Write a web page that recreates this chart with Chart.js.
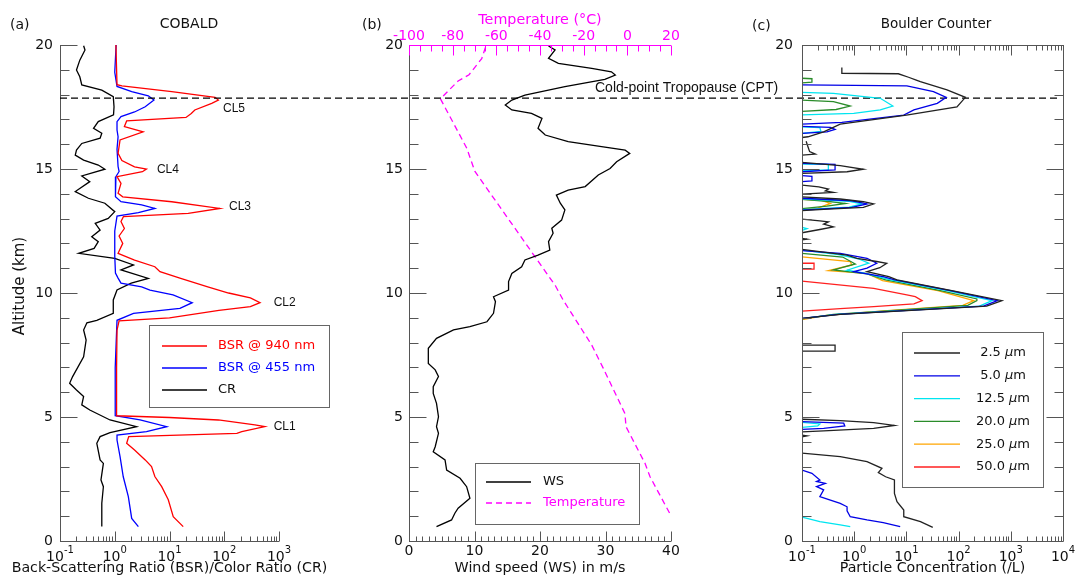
<!DOCTYPE html>
<html>
<head>
<meta charset="utf-8">
<title>COBALD / wind / Boulder Counter profiles</title>
<style>
  html, body { margin: 0; padding: 0; background: #fff; }
  #wrap { position: relative; width: 1075px; height: 577px; }
  #wrap canvas { position: absolute; left: 0; top: 0; }
</style>
</head>
<body>
<div id="wrap">
  <canvas id="chartA" width="1075" height="577"></canvas>
  <canvas id="chartB" width="1075" height="577"></canvas>
  <canvas id="chartC" width="1075" height="577"></canvas>
</div>
<script src="https://cdn.jsdelivr.net/npm/chart.js"></script>
<script>
// shared altitude axis (km)
const altTicks = [0, 5, 10, 15, 20];
const cptAlt = 17.86;

// ---- panel (a) COBALD backscatter ----
const alt940 = [20.0, 18.4, 18.35, 18.12, 17.89, 17.78, 17.65, 17.38, 17.24, 17.08, 16.94, 16.71, 16.5, 16.17, 15.63, 15.34, 15.09, 15.0, 14.89, 14.69, 14.42, 14.02, 13.88, 13.68, 13.41, 13.21, 13.08, 12.88, 12.6, 12.3, 12.0, 11.6, 11.33, 11.06, 10.86, 10.59, 10.25, 10.0, 9.8, 9.61, 9.45, 9.3, 9.0, 8.88, 8.5, 7.0, 6.0, 5.05, 4.98, 4.88, 4.68, 4.61, 4.41, 4.34, 4.21, 3.94, 3.67, 3.27, 3.0, 2.6, 2.19, 1.66, 0.98, 0.58];
const bsr940 = [1.05, 1.1, 1.35, 11, 68, 78, 59, 29, 25, 20, 1.65, 1.5, 3.3, 1.25, 1.15, 1.35, 2.3, 3.8, 3.2, 1.1, 1.3, 1.15, 1.4, 11, 83, 22, 1.44, 1.3, 1.5, 1.2, 1.4, 1.15, 2.3, 5.4, 6.7, 16, 50, 120, 300, 450, 300, 80, 10, 1.2, 1.1, 1.08, 1.08, 1.08, 10, 78, 363, 550, 209, 170, 1.8, 1.65, 2.3, 3.6, 4.7, 5.4, 7.2, 9.5, 11.7, 17.8];
const alt455 = [20.0, 18.9, 18.33, 18.12, 17.95, 17.78, 17.51, 17.3, 17.11, 16.91, 16.57, 16.3, 15.8, 15.1, 14.9, 14.69, 13.88, 13.68, 13.55, 13.41, 13.24, 13.1, 12.5, 11.5, 10.8, 10.6, 10.4, 10.25, 10.12, 9.92, 9.61, 9.38, 9.18, 8.9, 7.0, 5.05, 4.88, 4.61, 4.41, 4.27, 4.07, 3.4, 2.59, 1.79, 0.91, 0.58];
const bsr455 = [1.06, 1.0, 1.1, 2.04, 4.1, 5.2, 3.6, 2.3, 1.3, 1.1, 1.1, 1.15, 1.1, 1.15, 1.2, 1.05, 1.03, 1.3, 3.1, 5.4, 2.7, 1.1, 1.0, 1.0, 1.03, 1.15, 1.3, 3.1, 4.4, 11.6, 26, 15.5, 2.2, 1.1, 1.02, 1.02, 2.9, 8.9, 3.8, 1.1, 1.1, 1.25, 1.43, 1.77, 2.04, 2.7];
const altCr = [19.97, 19.8, 19.39, 18.99, 18.72, 18.39, 18.18, 17.92, 17.51, 17.18, 16.91, 16.64, 16.44, 16.24, 16.03, 15.76, 15.56, 15.36, 15.16, 14.99, 14.72, 14.49, 14.09, 13.82, 13.62, 13.28, 13.01, 12.81, 12.54, 12.27, 12.07, 11.8, 11.6, 11.4, 11.13, 10.93, 10.59, 10.4, 10.12, 9.72, 9.18, 8.9, 8.8, 8.51, 8.1, 7.43, 6.63, 6.36, 6.09, 5.83, 5.49, 5.28, 4.88, 4.61, 4.37, 4.21, 3.94, 3.27, 3.13, 2.46, 2.19, 1.52, 0.58];
const colorRatio = [0.27, 0.286, 0.23, 0.2, 0.23, 0.25, 0.58, 0.94, 0.97, 0.95, 0.5, 0.41, 0.58, 0.54, 0.25, 0.2, 0.19, 0.27, 0.5, 0.66, 0.25, 0.35, 0.19, 0.33, 0.66, 1.0, 0.76, 0.44, 0.54, 0.38, 0.5, 0.42, 0.22, 1.0, 2.2, 1.3, 4.1, 2.0, 1.1, 0.94, 0.94, 0.47, 0.31, 0.27, 0.3, 0.27, 0.17, 0.15, 0.2, 0.27, 0.25, 0.35, 0.82, 2.5, 0.82, 0.54, 0.47, 0.54, 0.62, 0.56, 0.62, 0.58, 0.58];
const bsrTicks = [0.1, 1, 10, 100, 1000];
const bsrTickExp = ['-1', '0', '1', '2', '3'];
const cloudNames = ['CL5', 'CL4', 'CL3', 'CL2', 'CL1'];
const cloudAlt = [17.45, 14.97, 13.48, 9.6, 4.6];
const cloudBsr = [95, 5.9, 122, 800, 800];

// ---- panel (b) wind speed and temperature ----
const altWs = [19.96, 19.8, 19.46, 19.26, 19.06, 18.92, 18.79, 18.61, 18.32, 17.98, 17.78, 17.58, 17.38, 17.24, 17.04, 16.64, 16.37, 16.1, 15.9, 15.76, 15.63, 15.29, 15.02, 14.76, 14.29, 14.15, 13.95, 13.62, 13.35, 12.94, 12.61, 12.41, 12.07, 11.73, 11.53, 11.33, 11.06, 10.79, 10.46, 10.12, 9.85, 9.65, 9.18, 8.84, 8.64, 8.51, 8.17, 7.77, 7.16, 6.9, 6.63, 6.22, 5.95, 5.55, 5.01, 4.61, 4.34, 3.8, 3.6, 3.27, 2.86, 2.53, 2.19, 1.72, 1.32, 1.12, 0.85, 0.58];
const windSpeed = [21.3, 22.3, 21.3, 22.8, 27.9, 30.9, 31.5, 29.9, 23.8, 17.7, 15.7, 14.7, 15.7, 18.7, 20.3, 19.7, 20.8, 24.3, 29.4, 33.0, 33.7, 31.7, 30.7, 28.9, 26.9, 24.3, 22.5, 23.1, 23.8, 23.3, 21.8, 22.0, 21.3, 21.5, 19.7, 17.7, 17.2, 15.7, 15.2, 15.2, 12.9, 13.2, 12.9, 11.9, 9.3, 6.8, 4.2, 2.95, 2.95, 4.0, 4.5, 3.7, 3.7, 4.2, 4.5, 4.2, 4.5, 4.0, 3.7, 5.5, 5.75, 7.8, 8.8, 9.3, 7.5, 7.0, 6.5, 4.2];
const altTemp = [19.9, 19.45, 18.8, 18.55, 17.83, 15.85, 14.9, 10.3, 9.7, 7.9, 6.96, 5.14, 4.61, 3.13, 2.59, 1.1];
const temperature = [-65, -66.7, -72.5, -77.5, -85.6, -73.6, -69.8, -33, -29.3, -16.3, -11, -1.1, -0.6, 8.1, 10.4, 19.5];
const wsTicks = [0, 10, 20, 30, 40];
const tempTicks = [-100, -80, -60, -40, -20, 0, 20];

// ---- panel (c) Boulder Counter, null = gap ----
const bcSizes = ['2.5', '5.0', '12.5', '20.0', '25.0', '50.0'];
const altBc25 = [19.09, 18.86, 18.84, 18.7, 18.59, 18.52, 18.19, 17.89, 17.5, 17.17, 16.81, 16.5, 16.3, 16.27, null,
  16.12, 15.9, 15.7, 15.6, 15.56, null,
  15.27, 15.14, 14.99, 14.89, 14.82, null,
  14.35, 14.28, 14.19, 14.12, 14.06, 13.99, null,
  13.88, 13.79, 13.68, 13.59, 13.45, 13.37, 13.32, null,
  12.98, 12.91, 12.87, 12.78, 12.67, 12.56, 12.43, null,
  12.2, 12.17, 12.14, null,
  11.76, 11.53, 11.4, 11.27, 11.2, 11.02, 10.86, 10.66, 10.53, 10.1, 9.69, 9.47, 9.29, 9.14, 8.98, null,
  7.9, 7.9, 7.66, 7.66, null,
  4.91, 4.85, 4.77, 4.66, 4.54, 4.44, 4.4, null,
  4.27, 4.24, 4.2, null,
  3.54, 3.4, 3.2, 2.93, 2.76, 2.59, 2.46, 1.92, 1.59, 1.25, 0.98, 0.78, 0.55];
const bc25 = [0.58, 0.58, 7, 11, 15, 18.5, 60, 135, 93, 10, 0.54, 0.26, 0.13, 0.1, null,
  0.12, 0.13, 0.14, 0.18, 0.1, null,
  0.1, 0.54, 1.5, 0.73, 0.1, null,
  0.1, 0.21, 0.32, 0.28, 0.4, 0.1, null,
  0.1, 0.54, 1.5, 2.36, 1.5, 0.26, 0.1, null,
  0.1, 0.22, 0.32, 0.26, 0.4, 0.22, 0.1, null,
  0.1, 0.125, 0.1, null,
  0.1, 0.73, 1.13, 2.7, 4.2, 3.1, 1.76, 4.6, 6.6, 74, 676, 345, 10.2, 0.54, 0.1, null,
  0.1, 0.43, 0.43, 0.1, null,
  0.1, 0.54, 2.36, 5.9, 2.36, 0.26, 0.1, null,
  0.1, 0.125, 0.1, null,
  0.1, 0.54, 1.76, 3.4, 2.9, 4.0, 5.9, 5.9, 6.6, 8.9, 8.9, 18.6, 32];
const altBc50 = [18.39, 18.35, 18.29, 18.12, 17.89, 17.65, 17.38, 17.17, 16.88, 16.81, null,
  16.72, 16.68, 16.6, 16.5, 16.44, null,
  15.23, 15.19, 14.96, 14.89, null,
  14.73, 14.7, 14.52, 14.49, null,
  13.82, 13.72, 13.59, 13.45, 13.34, null,
  11.71, 11.6, 11.4, 11.2, 11.0, 10.86, 10.66, 10.53, 10.1, 9.69, 9.47, 9.29, 9.14, 8.98, null,
  4.81, 4.75, 4.64, 4.54, 4.5, null,
  2.86, 2.73, 2.46, 2.4, 2.32, 2.19, 2.06, 1.79, 1.65, 1.52, 1.38, 1.22, 0.98, 0.85, 0.74, 0.58];
const bc50 = [0.1, 10.2, 13.9, 33, 58, 39, 13.9, 8.9, 0.58, 0.1, null,
  0.1, 0.35, 0.43, 0.3, 0.1, null,
  0.1, 0.43, 0.43, 0.1, null,
  0.1, 0.155, 0.155, 0.1, null,
  0.1, 0.9, 1.76, 0.9, 0.1, null,
  0.1, 0.54, 1.76, 2.7, 1.76, 0.98, 3.6, 6, 70, 550, 300, 9, 0.5, 0.1, null,
  0.1, 0.63, 0.66, 0.26, 0.1, null,
  0.1, 0.155, 0.22, 0.19, 0.28, 0.19, 0.26, 0.22, 0.35, 0.54, 0.73, 0.73, 0.84, 1.76, 3.6, 7.6];
const altBc125 = [18.09, 18.05, 17.85, 17.54, 17.38, 17.24, 17.18, null,
  16.7, 16.67, 16.52, 16.44, null,
  15.2, 15.19, 14.96, 14.93, null,
  13.8, 13.7, 13.59, 13.46, 13.36, null,
  12.65, 12.6, 12.52, null,
  11.73, 11.55, 11.38, 11.2, 10.92, 10.8, 10.53, 10.1, 9.69, 9.47, 9.29, 9.14, 8.97, null,
  4.78, 4.72, 4.64, 4.58, null,
  0.96, 0.78, 0.65, 0.58];
const bc125 = [0.1, 0.4, 3.16, 5.5, 3.16, 0.98, 0.1, null,
  0.1, 0.22, 0.23, 0.1, null,
  0.1, 0.32, 0.32, 0.1, null,
  0.1, 0.8, 1.41, 0.8, 0.1, null,
  0.1, 0.125, 0.1, null,
  0.1, 0.5, 1.2, 1.9, 0.73, 1.6, 5, 60, 437, 250, 8, 0.45, 0.1, null,
  0.1, 0.22, 0.2, 0.1, null,
  0.1, 0.22, 0.54, 0.84];
const altBc200 = [18.66, 18.64, 18.5, 18.47, null,
  17.78, 17.72, 17.54, 17.4, 17.32, null,
  13.78, 13.7, 13.61, 13.5, 13.4, null,
  11.6, 11.45, 11.17, 10.93, 10.77, 10.53, 10.1, 9.76, 9.69, 9.5, 9.3, 9.14, 8.96];
const bc200 = [0.1, 0.155, 0.155, 0.1, null,
  0.1, 0.4, 0.84, 0.45, 0.1, null,
  0.1, 0.3, 0.68, 0.3, 0.1, null,
  0.1, 0.6, 1.05, 0.4, 1.76, 4, 45, 224, 224, 150, 6, 0.4, 0.1];
const altBc250 = [13.78, 13.75, 13.61, 13.42, 13.38, null,
  11.46, 11.27, 11.13, 10.9, 10.79, 10.5, 10.1, 9.69, 9.5, 9.3, 9.1, 8.93];
const bc250 = [0.1, 0.22, 0.35, 0.2, 0.1, null,
  0.1, 0.84, 0.9, 0.32, 1.76, 3.5, 40, 195, 120, 5, 0.3, 0.1];
const altBc500 = [11.2, 11.2, 10.96, 10.96, null,
  10.48, 10.19, 9.92, 9.85, 9.69, 9.56, 9.45, 9.37, 9.27];
const bc500 = [0.1, 0.17, 0.17, 0.1, null,
  0.1, 2.36, 10.2, 14.8, 20, 13.9, 2.36, 0.54, 0.1];
const concTicks = [0.1, 1, 10, 100, 1000, 10000];
const concTickExp = ['-1', '0', '1', '2', '3', '4'];

// ---- styling ----
const FONT = '"DejaVu Sans", Verdana, sans-serif';
const AXIS = '#555';
const MAGENTA = '#ff00ff';
const bcColors = ['#222222', '#0000e6', '#00e5f0', '#2a8c2a', '#ffa500', '#ff2020'];

function pts(alts, vals) {
  return alts.map((a, i) => ({ x: vals[i], y: a }));
}
function ds(alts, vals, color, extra) {
  return Object.assign({
    data: pts(alts, vals), showLine: true, borderColor: color, borderWidth: 1.3,
    pointRadius: 0, fill: false, tension: 0, spanGaps: false
  }, extra || {});
}
const crisp = v => Math.round(v) + 0.5;
function line(ctx, x1, y1, x2, y2) {
  ctx.beginPath(); ctx.moveTo(x1, y1); ctx.lineTo(x2, y2); ctx.stroke();
}
function text(ctx, s, x, y, size, color, align, family) {
  ctx.font = size + 'px ' + (family || FONT);
  ctx.fillStyle = color || '#111';
  ctx.textAlign = align || 'center';
  ctx.textBaseline = 'middle';
  ctx.fillText(s, x, y);
}
function powLabel(ctx, x, y, exp) {
  ctx.font = '14px ' + FONT;
  const wb = ctx.measureText('10').width;
  ctx.font = '10px ' + FONT;
  const we = ctx.measureText(exp).width;
  const x0 = x - (wb + we) / 2;
  text(ctx, '10', x0, y, 14, '#111', 'left');
  text(ctx, exp, x0 + wb, y - 7, 10, '#111', 'left');
}
function leftAxis(chart, labelGap) {
  const ctx = chart.ctx, a = chart.chartArea, ys = chart.scales.y;
  ctx.strokeStyle = AXIS; ctx.lineWidth = 1;
  const x = crisp(a.left);
  line(ctx, x, a.top, x, a.bottom);
  for (let k = 0; k <= 20; k++) {
    const y = crisp(ys.getPixelForValue(k));
    line(ctx, x, y, x + (k % 5 === 0 ? 17 : 9), y);
  }
  altTicks.forEach(v => text(ctx, String(v), a.left - labelGap, ys.getPixelForValue(v), 14, '#111', 'right'));
}
function logTicks(ctx, xs, y, dir) {
  const lo = Math.round(Math.log10(xs.min)), hi = Math.round(Math.log10(xs.max));
  for (let d = lo; d <= hi; d++) {
    for (let k = 1; k <= 9; k++) {
      if (d === hi && k > 1) break;
      const x = crisp(xs.getPixelForValue(k * Math.pow(10, d)));
      line(ctx, x, y, x, y + dir * (k === 1 ? 10 : 5));
    }
  }
}
function legendBox(ctx, x1, y1, x2, y2) {
  ctx.fillStyle = '#fff';
  ctx.fillRect(x1, y1, x2 - x1, y2 - y1);
  ctx.strokeStyle = '#666'; ctx.lineWidth = 1;
  ctx.strokeRect(crisp(x1), crisp(y1), x2 - x1, y2 - y1);
}

const baseOptions = (pad, scales) => ({
  responsive: false, animation: false, events: [],
  layout: { padding: pad },
  plugins: { legend: { display: false }, tooltip: { enabled: false } },
  scales: scales
});

// ---------- (a) ----------
function drawA(chart) {
  const ctx = chart.ctx, a = chart.chartArea, xs = chart.scales.x, ys = chart.scales.y;
  ctx.save();
  leftAxis(chart, 7);
  ctx.strokeStyle = AXIS;
  const yb = crisp(a.bottom);
  line(ctx, a.left, yb, a.right, yb);
  logTicks(ctx, xs, yb, -1);
  bsrTicks.forEach((v, i) => powLabel(ctx, xs.getPixelForValue(v), 557, bsrTickExp[i]));
  text(ctx, 'Back-Scattering Ratio (BSR)/Color Ratio (CR)', (a.left + a.right) / 2, 568, 14.2);
  text(ctx, '(a)', 10, 25, 14, '#111', 'left');
  text(ctx, 'COBALD', 189, 24, 14);
  ctx.save();
  ctx.translate(20, 286); ctx.rotate(-Math.PI / 2);
  text(ctx, 'Altitude (km)', 0, 0, 15);
  ctx.restore();
  cloudNames.forEach((n, i) => text(ctx, n, xs.getPixelForValue(cloudBsr[i]), ys.getPixelForValue(cloudAlt[i]), 12, '#111', 'left', '"Liberation Sans", Arial, sans-serif'));
  // cold-point tropopause across all panels
  ctx.strokeStyle = '#000'; ctx.lineWidth = 1.3; ctx.setLineDash([7, 4]);
  const yc = ys.getPixelForValue(cptAlt);
  line(ctx, a.left, yc, 1060, yc);
  ctx.setLineDash([]);
  // legend
  legendBox(ctx, 149, 325, 329, 407);
  [['BSR @ 940 nm', '#ff0000', 346], ['BSR @ 455 nm', '#0000ff', 368], ['CR', '#000000', 390]].forEach(r => {
    ctx.strokeStyle = r[1]; ctx.lineWidth = 1.3;
    line(ctx, 162, r[2], 207, r[2]);
    text(ctx, r[0], 218, r[2], 13, r[1] === '#000000' ? '#111' : r[1], 'left');
  });
  ctx.restore();
}

new Chart(document.getElementById('chartA'), {
  type: 'scatter',
  data: { datasets: [
    ds(alt940, bsr940, '#ff0000'),
    ds(alt455, bsr455, '#0000ff'),
    ds(altCr, colorRatio, '#000000')
  ] },
  options: baseOptions({ left: 60, right: 796, top: 45, bottom: 36 }, {
    x: { type: 'logarithmic', min: 0.1, max: 1000, display: false },
    y: { type: 'linear', min: 0, max: 20, display: false }
  }),
  plugins: [{ id: 'decoA', afterDraw: drawA }]
});

// ---------- (b) ----------
function drawB(chart) {
  const ctx = chart.ctx, a = chart.chartArea, xs = chart.scales.x, xt = chart.scales.xt;
  ctx.save();
  leftAxis(chart, 6);
  ctx.strokeStyle = AXIS; ctx.lineWidth = 1;
  const yb = crisp(a.bottom);
  line(ctx, a.left, yb, a.right, yb);
  for (let v = 0; v <= 40; v++) {
    const x = crisp(xs.getPixelForValue(v));
    line(ctx, x, yb, x, yb - (v % 10 === 0 ? 10 : 5));
  }
  wsTicks.forEach(v => text(ctx, String(v), xs.getPixelForValue(v), 551, 14));
  text(ctx, 'Wind speed (WS) in m/s', (a.left + a.right) / 2, 568, 14.3);
  // temperature axis on top
  ctx.strokeStyle = MAGENTA;
  const yt = crisp(a.top);
  line(ctx, a.left, yt, a.right, yt);
  for (let v = -100; v <= 20; v += 5) {
    const x = crisp(xt.getPixelForValue(v));
    line(ctx, x, yt, x, yt + (v % 20 === 0 ? 10 : 6));
  }
  tempTicks.forEach(v => text(ctx, String(v), xt.getPixelForValue(v), 36, 14, MAGENTA));
  text(ctx, 'Temperature (\u00B0C)', (a.left + a.right) / 2, 20, 14.3, MAGENTA);
  text(ctx, '(b)', 362, 25, 14, '#111', 'left');
  ctx.font = '14px "Liberation Sans", Arial, sans-serif';
  ctx.fillStyle = '#111'; ctx.textAlign = 'left'; ctx.textBaseline = 'alphabetic';
  ctx.fillText('Cold-point Tropopause (CPT)', 595, 92);
  // legend
  legendBox(ctx, 475, 463, 639, 524);
  ctx.lineWidth = 1.3;
  ctx.strokeStyle = '#000';
  line(ctx, 486, 482, 531, 482);
  text(ctx, 'WS', 543, 482, 13, '#111', 'left');
  ctx.strokeStyle = MAGENTA; ctx.setLineDash([6, 4]);
  line(ctx, 486, 503, 531, 503);
  ctx.setLineDash([]);
  text(ctx, 'Temperature', 543, 503, 13, MAGENTA, 'left');
  ctx.restore();
}

new Chart(document.getElementById('chartB'), {
  type: 'scatter',
  data: { datasets: [
    ds(altWs, windSpeed, '#000000', { xAxisID: 'x' }),
    ds(altTemp, temperature, MAGENTA, { xAxisID: 'xt', borderDash: [6, 4] })
  ] },
  options: baseOptions({ left: 409, right: 404, top: 45, bottom: 36 }, {
    x: { type: 'linear', min: 0, max: 40, display: false },
    xt: { type: 'linear', axis: 'x', min: -100, max: 20, display: false },
    y: { type: 'linear', min: 0, max: 20, display: false }
  }),
  plugins: [{ id: 'decoB', afterDraw: drawB }]
});

// ---------- (c) ----------
function drawC(chart) {
  const ctx = chart.ctx, a = chart.chartArea, xs = chart.scales.x, ys = chart.scales.y;
  ctx.save();
  leftAxis(chart, 9);
  ctx.strokeStyle = AXIS; ctx.lineWidth = 1;
  const xr = crisp(a.right), yb = crisp(a.bottom), yt = crisp(a.top);
  line(ctx, xr, a.top, xr, a.bottom);
  for (let k = 0; k <= 20; k++) {
    const y = crisp(ys.getPixelForValue(k));
    line(ctx, xr, y, xr - (k % 5 === 0 ? 17 : 9), y);
  }
  line(ctx, a.left, yb, a.right, yb);
  line(ctx, a.left, yt, a.right, yt);
  logTicks(ctx, xs, yb, -1);
  logTicks(ctx, xs, yt, 1);
  concTicks.forEach((v, i) => powLabel(ctx, xs.getPixelForValue(v), 557, concTickExp[i]));
  text(ctx, 'Particle Concentration (/L)', (a.left + a.right) / 2, 568, 14.2);
  text(ctx, '(c)', 752, 26, 14, '#111', 'left');
  text(ctx, 'Boulder Counter', 936, 24, 13.5);
  // legend
  legendBox(ctx, 902, 332, 1043, 487);
  bcSizes.forEach((s, i) => {
    const y = 353 + i * 22.8;
    ctx.strokeStyle = bcColors[i]; ctx.lineWidth = 1.3;
    line(ctx, 914, y, 960, y);
    const num = s + ' ';
    ctx.font = '13px ' + FONT;
    const w1 = ctx.measureText(num).width, w3 = ctx.measureText('m').width;
    ctx.font = 'italic 13px ' + FONT;
    const w2 = ctx.measureText('\u03BC').width;
    let x = 1003 - (w1 + w2 + w3) / 2;
    text(ctx, num, x, y, 13, '#111', 'left');
    ctx.font = 'italic 13px ' + FONT; ctx.fillText('\u03BC', x + w1, y);
    text(ctx, 'm', x + w1 + w2, y, 13, '#111', 'left');
  });
  ctx.restore();
}

const bcAlts = [altBc25, altBc50, altBc125, altBc200, altBc250, altBc500];
const bcVals = [bc25, bc50, bc125, bc200, bc250, bc500];
new Chart(document.getElementById('chartC'), {
  type: 'scatter',
  data: { datasets: bcAlts.map((alts, i) => ds(alts, bcVals[i], bcColors[i])) },
  options: baseOptions({ left: 802, right: 12, top: 45, bottom: 36 }, {
    x: { type: 'logarithmic', min: 0.1, max: 10000, display: false },
    y: { type: 'linear', min: 0, max: 20, display: false }
  }),
  plugins: [{ id: 'decoC', afterDraw: drawC }]
});
</script>
</body>
</html>
